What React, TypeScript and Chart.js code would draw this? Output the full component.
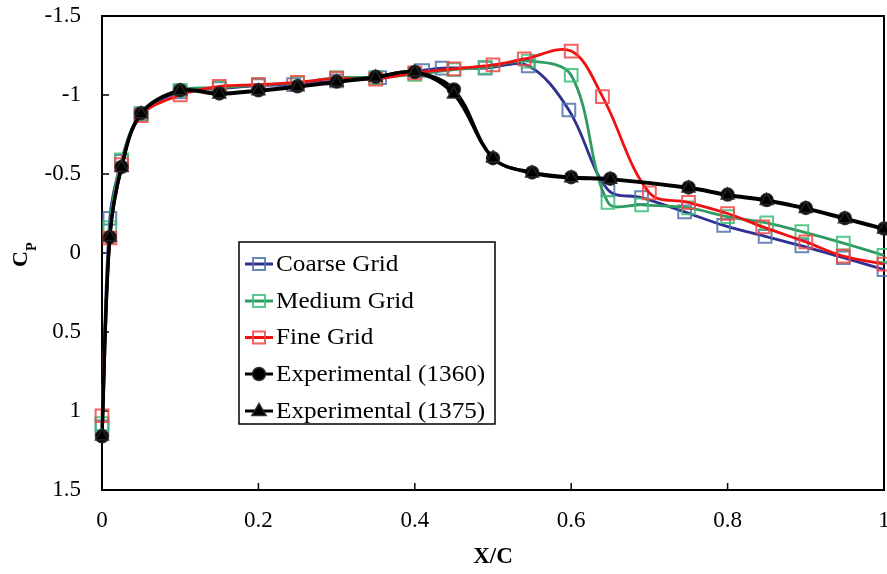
import React, { useEffect, useRef } from 'react';
import { Chart, registerables } from 'chart.js';
Chart.register(...registerables);

// ---------- data ----------
const coarseX = [0, 0.01, 0.025, 0.05, 0.1, 0.15, 0.2, 0.245, 0.3, 0.355, 0.41, 0.435, 0.49, 0.545, 0.597, 0.647, 0.69, 0.745, 0.795, 0.848, 0.895, 0.948, 1.0];
const coarseCp = [1.1, -0.22, -0.58, -0.88, -1.02, -1.04, -1.06, -1.065, -1.09, -1.11, -1.155, -1.17, -1.17, -1.185, -0.905, -0.4, -0.35, -0.26, -0.175, -0.105, -0.045, 0.03, 0.105];

const mediumX = [0, 0.01, 0.025, 0.05, 0.1, 0.15, 0.2, 0.25, 0.3, 0.35, 0.4, 0.45, 0.49, 0.545, 0.6, 0.647, 0.69, 0.75, 0.8, 0.85, 0.895, 0.948, 1.0];
const mediumCp = [1.08, -0.16, -0.59, -0.88, -1.03, -1.045, -1.065, -1.075, -1.11, -1.11, -1.13, -1.16, -1.175, -1.215, -1.125, -0.32, -0.305, -0.285, -0.23, -0.19, -0.135, -0.063, 0.015];

const fineX = [0, 0.01, 0.025, 0.05, 0.1, 0.15, 0.2, 0.25, 0.3, 0.35, 0.4, 0.45, 0.5, 0.54, 0.6, 0.64, 0.7, 0.75, 0.8, 0.845, 0.9, 0.948, 1.0];
const fineCp = [1.03, -0.095, -0.56, -0.87, -1.0, -1.055, -1.065, -1.08, -1.105, -1.1, -1.14, -1.165, -1.19, -1.228, -1.278, -0.99, -0.38, -0.32, -0.25, -0.165, -0.07, 0.02, 0.07];

const expX = [0, 0.01, 0.025, 0.05, 0.1, 0.15, 0.2, 0.25, 0.3, 0.35, 0.4, 0.45, 0.5, 0.55, 0.6, 0.65, 0.75, 0.8, 0.85, 0.9, 0.95, 1.0];
const exp1360Cp = [1.16, -0.1, -0.545, -0.885, -1.03, -1.01, -1.03, -1.055, -1.085, -1.115, -1.145, -1.035, -0.6, -0.51, -0.48, -0.47, -0.415, -0.37, -0.335, -0.285, -0.22, -0.155];
const exp1375Cp = [1.16, -0.1, -0.54, -0.88, -1.025, -1.005, -1.025, -1.05, -1.08, -1.11, -1.145, -1.005, -0.6, -0.505, -0.475, -0.465, -0.41, -0.365, -0.33, -0.28, -0.215, -0.15];

const seriesLabels = ['Coarse Grid', 'Medium Grid', 'Fine Grid', 'Experimental (1360)', 'Experimental (1375)'];

const xTicks = [0, 0.2, 0.4, 0.6, 0.8, 1];
const xTickLabels = ['0', '0.2', '0.4', '0.6', '0.8', '1'];
const yTicks = [-1.5, -1, -0.5, 0, 0.5, 1, 1.5];
const yTickLabels = ['-1.5', '-1', '-0.5', '0', '0.5', '1', '1.5'];

const xTitle = 'X/C';
const yTitleMain = 'C';
const yTitleSub = 'P';

// ---------- styles ----------
const styles = [
  { line: '#2E3192', marker: 'rgba(80,115,170,0.85)', shape: 'rect', r: 9, fill: 'rgba(0,0,0,0)', mw: 2 },
  { line: '#2F9B62', marker: 'rgba(60,190,120,0.85)', shape: 'rect', r: 9, fill: 'rgba(0,0,0,0)', mw: 2 },
  { line: '#EE1111', marker: 'rgba(245,70,70,0.85)', shape: 'rect', r: 9, fill: 'rgba(0,0,0,0)', mw: 2 },
  { line: '#000000', marker: 'rgba(40,40,40,0.9)', shape: 'circle', r: 6.5, fill: '#000000', mw: 1.5 },
  { line: '#000000', marker: 'rgba(40,40,40,0.9)', shape: 'triangle', r: 7.5, fill: '#000000', mw: 1.5 },
];

const zip = (xs: number[], ys: number[]) => xs.map((x, i) => ({ x, y: ys[i] }));

const FONT = '"Liberation Serif", "Times New Roman", serif';

function drawMarker(ctx: CanvasRenderingContext2D, shape: string, x: number, y: number, s: any) {
  ctx.save();
  ctx.lineWidth = s.mw;
  ctx.strokeStyle = s.marker;
  ctx.fillStyle = s.fill;
  ctx.beginPath();
  if (shape === 'rect') {
    const h = s.r * Math.SQRT1_2;
    ctx.rect(x - h, y - h, 2 * h, 2 * h);
    ctx.stroke();
  } else if (shape === 'circle') {
    ctx.arc(x, y, s.r, 0, Math.PI * 2);
    ctx.fill();
    ctx.stroke();
  } else {
    const r = s.r;
    ctx.moveTo(x, y - r);
    ctx.lineTo(x + r * 0.95, y + r * 0.6);
    ctx.lineTo(x - r * 0.95, y + r * 0.6);
    ctx.closePath();
    ctx.fill();
    ctx.stroke();
  }
  ctx.restore();
}

const framePlugin = {
  id: 'frameAndLegend',
  beforeDatasetsDraw(chart: any) {
    const { ctx, chartArea: a, scales } = chart;
    ctx.save();
    ctx.strokeStyle = '#000';
    ctx.lineWidth = 2;
    ctx.strokeRect(a.left, a.top, a.right - a.left, a.bottom - a.top);
    ctx.lineWidth = 1.5;
    ctx.beginPath();
    xTicks.forEach((v) => {
      const px = scales.x.getPixelForValue(v);
      ctx.moveTo(px, a.bottom);
      ctx.lineTo(px, a.bottom - 7);
    });
    yTicks.forEach((v) => {
      const py = scales.y.getPixelForValue(v);
      ctx.moveTo(a.left, py);
      ctx.lineTo(a.left + 7, py);
    });
    ctx.stroke();

    // y-axis title with subscript
    ctx.fillStyle = '#000';
    ctx.translate(27, 267);
    ctx.rotate(-Math.PI / 2);
    ctx.textBaseline = 'alphabetic';
    ctx.textAlign = 'left';
    ctx.font = 'bold 22px ' + FONT;
    ctx.fillText(yTitleMain, 0, 0);
    const w = ctx.measureText(yTitleMain).width;
    ctx.font = 'bold 14px ' + FONT;
    ctx.fillText(yTitleSub, w, 9);
    ctx.restore();
  },
  afterDatasetsDraw(chart: any) {
    const { ctx } = chart;
    ctx.save();
    const bx = 239, by = 242, bw = 256, bh = 182;
    ctx.fillStyle = '#fff';
    ctx.fillRect(bx, by, bw, bh);
    ctx.strokeStyle = '#000';
    ctx.lineWidth = 1.5;
    ctx.strokeRect(bx, by, bw, bh);
    const rows = [264, 301, 337.5, 374, 411];
    seriesLabels.forEach((label, i) => {
      const s = styles[i];
      const y = rows[i];
      ctx.strokeStyle = s.line;
      ctx.lineWidth = 3;
      ctx.beginPath();
      ctx.moveTo(245, y);
      ctx.lineTo(273, y);
      ctx.stroke();
      drawMarker(ctx, s.shape, 259, y, { ...s, r: s.shape === 'rect' ? 8.5 : s.r });
      ctx.save();
      ctx.translate(276, y);
      ctx.scale(1.12, 1);
      ctx.fillStyle = '#000';
      ctx.font = '22.5px ' + FONT;
      ctx.textBaseline = 'middle';
      ctx.textAlign = 'left';
      ctx.fillText(label, 0, 1);
      ctx.restore();
    });
    ctx.restore();
  },
};

export default function App() {
  const ref = useRef<HTMLCanvasElement>(null);
  useEffect(() => {
    document.body.style.margin = '0';
    const canvas = ref.current!;
    const dataArrays = [
      zip(coarseX, coarseCp),
      zip(mediumX, mediumCp),
      zip(fineX, fineCp),
      zip(expX, exp1360Cp),
      zip(expX, exp1375Cp),
    ];
    const orders = [5, 4, 3, 2, 1];
    const chart = new Chart(canvas, {
      type: 'line',
      data: {
        datasets: dataArrays.map((d, i) => ({
          label: seriesLabels[i],
          data: d,
          borderColor: styles[i].line,
          borderWidth: i >= 3 ? 3.2 : 2.8,
          tension: 0.35,
          fill: false,
          pointStyle: styles[i].shape as any,
          pointRadius: styles[i].r,
          pointBorderColor: styles[i].marker,
          pointBackgroundColor: styles[i].fill,
          pointBorderWidth: styles[i].mw,
          clip: false as any,
          order: orders[i],
        })),
      },
      options: {
        responsive: false,
        animation: false,
        devicePixelRatio: 1,
        layout: { autoPadding: false, padding: { top: 16, right: 3, left: 0, bottom: 0 } },
        plugins: { legend: { display: false }, tooltip: { enabled: false } },
        scales: {
          x: {
            type: 'linear',
            min: 0,
            max: 1,
            afterBuildTicks: (s: any) => {
              s.ticks = xTicks.map((v) => ({ value: v }));
            },
            afterFit: (s: any) => {
              s.height = 84;
              s.paddingLeft = 0;
              s.paddingRight = 0;
            },
            grid: { display: false, drawTicks: false },
            border: { display: false },
            ticks: {
              padding: 17,
              color: '#000',
              font: { family: FONT, size: 23 },
              maxRotation: 0,
              autoSkip: false,
              callback: (_v: any, i: number) => xTickLabels[i],
            },
            title: {
              display: true,
              text: xTitle,
              color: '#000',
              font: { family: FONT, size: 23, weight: 'bold' },
              padding: { top: 0, bottom: 3 },
            },
          },
          y: {
            type: 'linear',
            min: -1.5,
            max: 1.5,
            reverse: true,
            afterBuildTicks: (s: any) => {
              s.ticks = yTicks.map((v) => ({ value: v }));
            },
            afterFit: (s: any) => {
              s.width = 102;
              s.paddingTop = 0;
              s.paddingBottom = 0;
            },
            grid: { display: false, drawTicks: false },
            border: { display: false },
            ticks: {
              padding: 21,
              color: '#000',
              font: { family: FONT, size: 23 },
              autoSkip: false,
              callback: (_v: any, i: number) => yTickLabels[i],
            },
          },
        },
      } as any,
      plugins: [framePlugin],
    });
    return () => chart.destroy();
  }, []);
  return <canvas ref={ref} width={887} height={574} style={{ display: 'block', width: 887, height: 574 }} />;
}
